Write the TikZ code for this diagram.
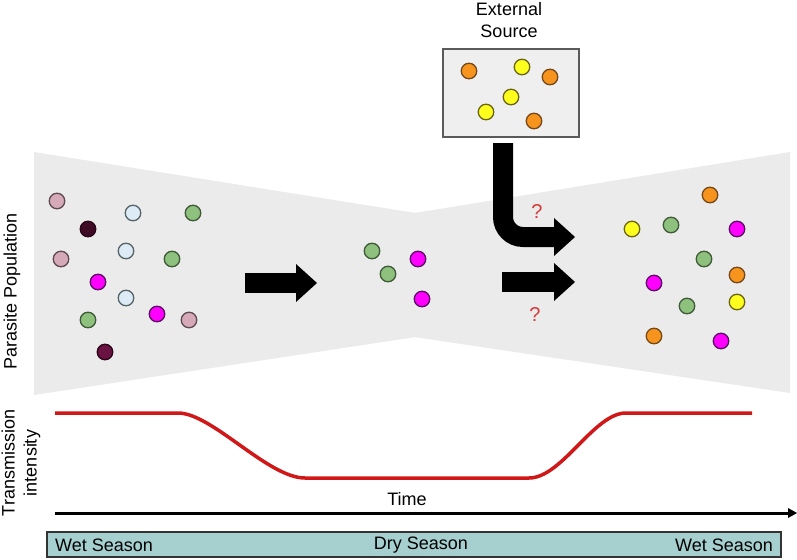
\documentclass[tikz,border=0pt]{standalone}
\usepackage{fontspec}
\setmainfont{Liberation Sans}
\usetikzlibrary{arrows.meta}
\definecolor{bggray}{HTML}{EBEBEB}
\definecolor{boxfill}{HTML}{EFEFEF}
\definecolor{boxline}{HTML}{5A5A5A}
\definecolor{cpink}{HTML}{D6A9B9}
\definecolor{spink}{HTML}{5E4A52}
\definecolor{cblue}{HTML}{DCEBF6}
\definecolor{sblue}{HTML}{566468}
\definecolor{cgreen}{HTML}{8EC07E}
\definecolor{sgreen}{HTML}{3E5A36}
\definecolor{cmag}{HTML}{FF00FF}
\definecolor{smag}{HTML}{5A1060}
\definecolor{cmar1}{HTML}{3E0A26}
\definecolor{cmar2}{HTML}{6A1242}
\definecolor{smar}{HTML}{2A0518}
\definecolor{corange}{HTML}{F7941D}
\definecolor{sorange}{HTML}{74481A}
\definecolor{cyellow}{HTML}{FFFF1E}
\definecolor{syellow}{HTML}{6A6414}
\definecolor{redline}{HTML}{D01818}
\definecolor{qred}{HTML}{D83A3A}
\definecolor{barfill}{HTML}{A6CFCF}
\definecolor{barline}{HTML}{333333}
\begin{document}
\begin{tikzpicture}[x=1pt,y=-1pt,
  dot/.style={circle, draw, line width=1.3pt, minimum size=15.5pt, inner sep=0pt},
  dpink/.style={dot, fill=cpink, draw=spink},
  dblue/.style={dot, fill=cblue, draw=sblue},
  dgreen/.style={dot, fill=cgreen, draw=sgreen},
  dmag/.style={dot, fill=cmag, draw=smag},
  dmarA/.style={dot, fill=cmar1, draw=smar},
  dmarB/.style={dot, fill=cmar2, draw=smar},
  dorange/.style={dot, fill=corange, draw=sorange},
  dyellow/.style={dot, fill=cyellow, draw=syellow},
  lbl/.style={font=\fontsize{18}{22}\selectfont, inner sep=0pt},
  qmark/.style={inner sep=0pt, font=\fontsize{20}{24}\selectfont, text=qred},
  bigarrow/.style={line width=20pt, -{Triangle[width=38pt,length=21pt,line width=0pt]}},
  redcurve/.style={draw=redline, line width=3.5pt}
]
\useasboundingbox (0,0) rectangle (797,559);
\fill[white] (0,0) rectangle (797,559);

% population funnel
\fill[bggray] (34,152) -- (409,212) .. controls (415,213) .. (421,212) -- (790,152) -- (790,393)
  -- (421,338) .. controls (415,337) .. (409,338) -- (34,395) -- cycle;

% labels
\node[lbl, rotate=90] (pp) at (12,291) {Parasite Population};
\node[lbl, rotate=90, align=center] (ti) at (21,463) {Transmission\\intensity};

% left population
\node[dpink]  (L1)  at (57,201) {};
\node[dmarA]  (L2)  at (88,229) {};
\node[dblue]  (L3)  at (133,213) {};
\node[dgreen] (L4)  at (193,213) {};
\node[dpink]  (L5)  at (61,259) {};
\node[dblue]  (L6)  at (126,251) {};
\node[dgreen] (L7)  at (172,259) {};
\node[dmag]   (L8)  at (98,282) {};
\node[dblue]  (L9)  at (126,298) {};
\node[dmag]   (L10) at (157,314) {};
\node[dpink]  (L11) at (189,320) {};
\node[dgreen] (L12) at (88,320) {};
\node[dmarB]  (L13) at (105,352) {};

% middle population
\node[dgreen] (M1) at (372,251) {};
\node[dmag]   (M2) at (418,259) {};
\node[dgreen] (M3) at (388,274) {};
\node[dmag]   (M4) at (422,299) {};

% right population
\node[dorange] (R1)  at (710,195) {};
\node[dyellow] (R2)  at (632,229) {};
\node[dgreen]  (R3)  at (671,225) {};
\node[dmag]    (R4)  at (737,229) {};
\node[dgreen]  (R5)  at (704,259) {};
\node[dorange] (R6)  at (737,275) {};
\node[dmag]    (R7)  at (654,283) {};
\node[dyellow] (R8)  at (737,302) {};
\node[dgreen]  (R9)  at (687,306) {};
\node[dorange] (R10) at (654,336) {};
\node[dmag]    (R11) at (721,341) {};

% external source
\node[lbl, align=center] (srclbl) at (509,20) {External\\Source};
\node[draw=boxline, fill=boxfill, line width=1.5pt, minimum width=136pt, minimum height=88pt, inner sep=0pt] (src) at (511,93) {};
\node[dorange] (S1) at (469,71) {};
\node[dyellow] (S2) at (522,67) {};
\node[dorange] (S3) at (550,77) {};
\node[dyellow] (S4) at (511,97) {};
\node[dyellow] (S5) at (486,112) {};
\node[dorange] (S6) at (534,121) {};

% arrows
\coordinate (a1s) at (245,283);
\coordinate (a1e) at (317,283);
\draw[bigarrow] (a1s) -- (a1e);
\coordinate (a2s) at (503,143);
\coordinate (a2e) at (575,237);
\draw[bigarrow, rounded corners=20pt] (a2s) |- (a2e);
\coordinate (a3s) at (502,282);
\coordinate (a3e) at (575,282);
\draw[bigarrow] (a3s) -- (a3e);
\node[qmark] (q1) at (537,212) {?};
\node[qmark] (q2) at (535,315) {?};

% transmission curve
\draw[redcurve] (55,413) -- (178,413) .. controls (212,413) and (268,478) .. (305,478)
  -- (529,478) .. controls (562,478) and (594,413) .. (626,413) -- (752,413);

% time axis
\coordinate (t0) at (55,513);
\coordinate (t1) at (797,513);
\draw[line width=3pt, -{Triangle[width=10pt,length=9pt,line width=0pt]}] (t0) -- (t1);
\node[lbl] (time) at (407,499) {Time};

% season bar
\draw[fill=barfill, draw=barline, line width=1.5pt] (47,532) rectangle (781,557);
\node[lbl, anchor=west] (w1) at (55,545) {Wet Season};
\node[lbl] (dry) at (421,545) {Dry Season};
\node[lbl, anchor=east] (w2) at (773,545) {Wet Season};
\end{tikzpicture}
\end{document}
